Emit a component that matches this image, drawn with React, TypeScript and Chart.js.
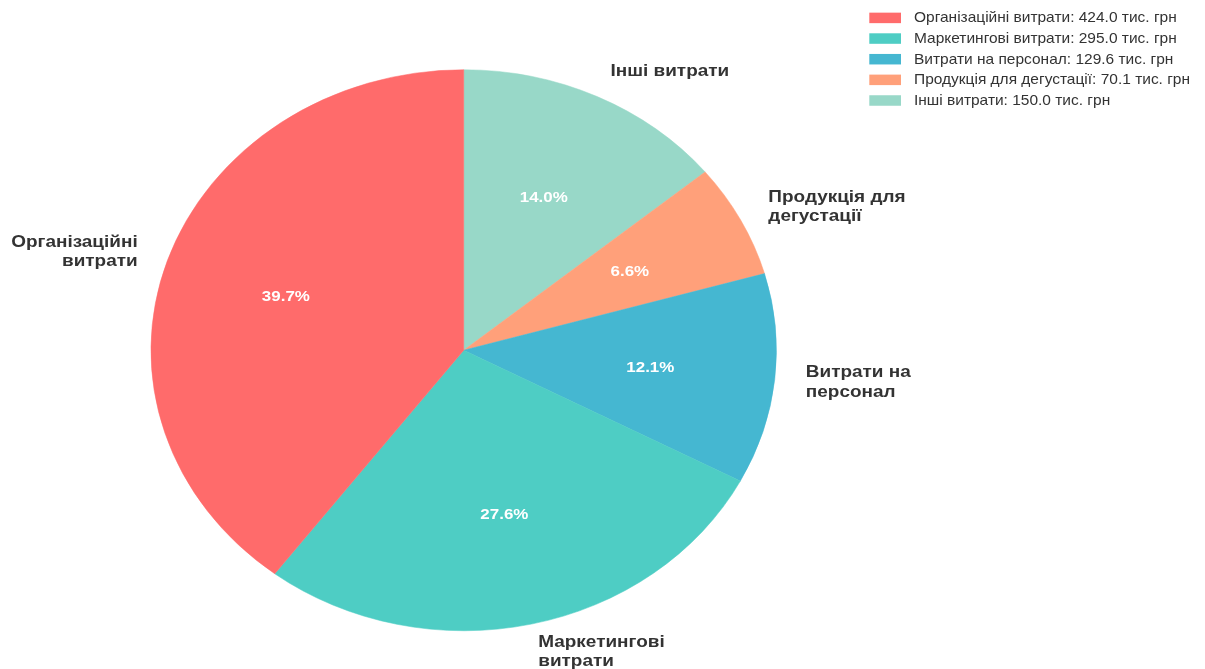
import React, { useEffect, useRef } from "react";
import { Chart, registerables } from "chart.js";

Chart.register(...registerables);

const categories: string[] = [
  "Організаційні витрати",
  "Маркетингові витрати",
  "Витрати на персонал",
  "Продукція для дегустації",
  "Інші витрати",
];
const wrappedLabels: string[][] = [
  ["Організаційні", "витрати"],
  ["Маркетингові", "витрати"],
  ["Витрати на", "персонал"],
  ["Продукція для", "дегустації"],
  ["Інші витрати"],
];
const values: number[] = [424.0, 295.0, 129.6, 70.1, 150.0];
const colors: string[] = ["#FF6B6B", "#4ECDC4", "#45B7D1", "#FFA07A", "#98D8C8"];
const unit = "тис. грн";

const W = 1205;
const H = 669;
const CX = 463.7;
const CY = 350.25;
const RY = 280.75;
const RX = 313;
const SX = RX / RY;
const FONT = '"Liberation Sans", Arial, sans-serif';

function stretchedText(ctx: CanvasRenderingContext2D, text: string, x: number, y: number) {
  ctx.save();
  ctx.translate(x, y);
  ctx.scale(SX, 1);
  ctx.fillText(text, 0, 0);
  ctx.restore();
}

const ellipsePlugin = {
  id: "ellipsePie",
  beforeDatasetsDraw(chart: any) {
    const arc = chart.getDatasetMeta(0).data[0] as any;
    const ctx = chart.ctx;
    ctx.save();
    ctx.translate(arc.x, arc.y);
    ctx.scale(SX, 1);
    ctx.translate(-arc.x, -arc.y);
  },
  afterDatasetsDraw(chart: any) {
    chart.ctx.restore();
  },
  afterDraw(chart: any) {
    const ctx = chart.ctx as CanvasRenderingContext2D;
    const meta = chart.getDatasetMeta(0);
    const total = values.reduce((a, b) => a + b, 0);
    const n = values.length;
    ctx.save();
    meta.data.forEach((el: any, i: number) => {
      const idx = n - 1 - i; // dataset is reversed
      const mid = (el.startAngle + el.endAngle) / 2;
      const r = el.outerRadius;
      const c = Math.cos(mid);
      const s = Math.sin(mid);
      // percent labels
      const px = el.x + 0.6 * r * SX * c;
      const py = el.y + 0.6 * r * s;
      ctx.font = `bold 15.2px ${FONT}`;
      ctx.fillStyle = "#ffffff";
      ctx.textAlign = "center";
      ctx.textBaseline = "middle";
      stretchedText(ctx, ((values[idx] / total) * 100).toFixed(1) + "%", px, py);
      // outer labels
      const lx = el.x + 1.1 * r * SX * c;
      const ly = el.y + 1.1 * r * s;
      const lines = wrappedLabels[idx];
      const lh = 19.2;
      ctx.font = `bold 17px ${FONT}`;
      ctx.fillStyle = "#333333";
      ctx.textAlign = c >= 0 ? "left" : "right";
      lines.forEach((line, k) => {
        const yy = ly + (k - (lines.length - 1) / 2) * lh;
        stretchedText(ctx, line, lx, yy);
      });
    });
    // legend
    const bx = 869.3;
    const bw = 31.7;
    const bh = 10.5;
    const y0 = 17.9;
    const dy = 20.65;
    ctx.font = `13.9px ${FONT}`;
    ctx.textAlign = "left";
    ctx.textBaseline = "middle";
    categories.forEach((cat, i) => {
      const cy = y0 + i * dy;
      ctx.fillStyle = colors[i];
      ctx.fillRect(bx, cy - bh / 2, bw, bh);
      ctx.fillStyle = "#333333";
      stretchedText(ctx, `${cat}: ${values[i].toFixed(1)} ${unit}`, 914, cy + 0.5);
    });
    ctx.restore();
  },
};

export default function App() {
  const ref = useRef<HTMLCanvasElement | null>(null);
  useEffect(() => {
    document.body.style.margin = "0";
    const canvas = ref.current!;
    const chart = new Chart(canvas, {
      type: "pie",
      data: {
        labels: [...categories].reverse(),
        datasets: [
          {
            data: [...values].reverse(),
            backgroundColor: [...colors].reverse(),
            borderColor: [...colors].reverse(),
            borderWidth: 0.5,
          },
        ],
      },
      options: {
        responsive: false,
        animation: false,
        devicePixelRatio: 1,
        layout: {
          padding: {
            left: CX - RY,
            right: W - (CX + RY),
            top: CY - RY,
            bottom: H - (CY + RY),
          },
        },
        plugins: {
          legend: { display: false },
          tooltip: { enabled: false },
        },
      },
      plugins: [ellipsePlugin],
    });
    return () => chart.destroy();
  }, []);
  return (
    <div style={{ position: "fixed", left: 0, top: 0, width: W, height: H, background: "#fff" }}>
      <canvas ref={ref} width={W} height={H} style={{ width: W, height: H, display: "block" }} />
    </div>
  );
}
